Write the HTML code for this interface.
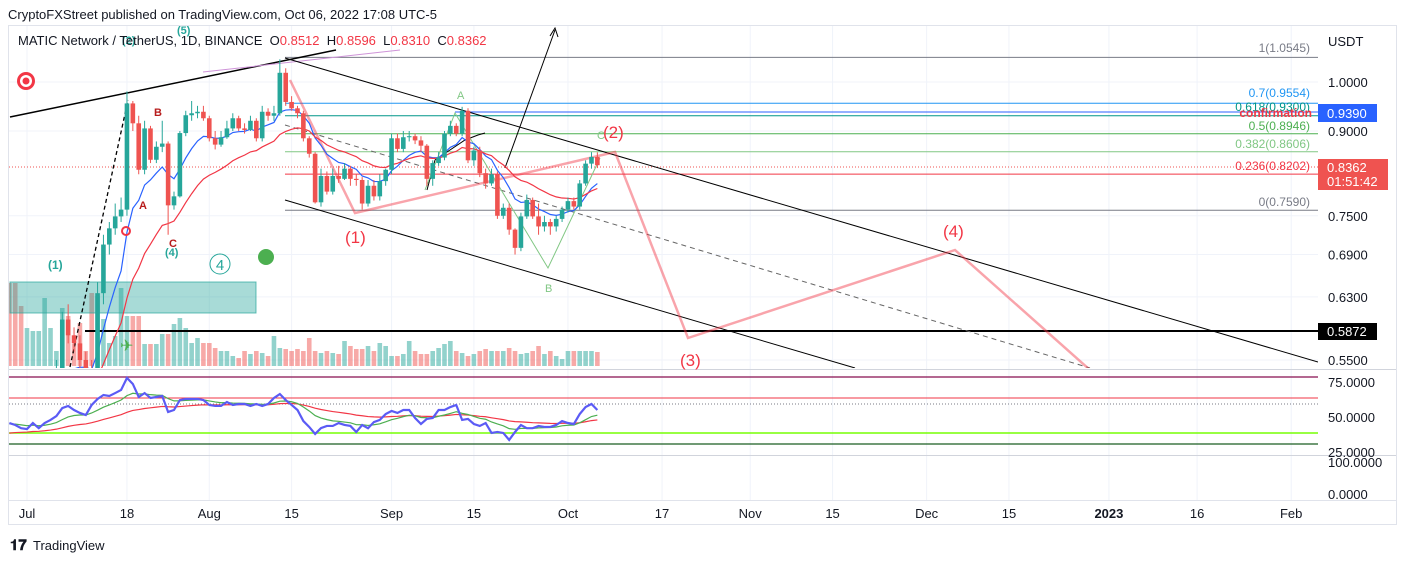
<!DOCTYPE html>
<html><head><meta charset="utf-8"><style>
html,body{margin:0;padding:0;background:#fff;}
svg{display:block;font-family:"Liberation Sans",Arial,sans-serif;}
</style></head><body>
<svg id="c" width="1407" height="561" viewBox="0 0 1407 561" xmlns="http://www.w3.org/2000/svg">
<defs><clipPath id="pc"><rect x="9" y="26" width="1309" height="342"/></clipPath>
<clipPath id="oc"><rect x="9" y="371" width="1309" height="83"/></clipPath></defs>
<text x="8" y="19" font-size="13" fill="#131722">CryptoFXStreet published on TradingView.com, Oct 06, 2022 17:08 UTC-5</text>
<rect x="8.5" y="25.5" width="1388" height="499" fill="none" stroke="#e0e3eb"/>
<g id="grid"></g>
<line x1="9" y1="369.5" x2="1396" y2="369.5" stroke="#d1d4dc"/>
<line x1="9" y1="455.5" x2="1396" y2="455.5" stroke="#d1d4dc"/>
<line x1="9" y1="500.5" x2="1396" y2="500.5" stroke="#e0e3eb"/>
<g clip-path="url(#pc)">
 <g id="vol"></g>
 <rect x="10" y="282" width="246" height="31" fill="rgba(38,166,154,0.4)" stroke="rgba(38,166,154,0.7)"/>
 <g id="fibs"></g>
 <line x1="9" y1="167" x2="1318" y2="167" stroke="#ef5350" stroke-dasharray="1,2"/>
 <line x1="85" y1="331" x2="1318" y2="331" stroke="#000" stroke-width="2"/>
 <line x1="455" y1="112" x2="1318" y2="112" stroke="#2962ff"/>
 <g id="draw">
  <line x1="10" y1="117" x2="336" y2="50" stroke="#000" stroke-width="1.5"/>
  <line x1="203" y1="72" x2="400" y2="50" stroke="#ce93d8"/>
  <line x1="285" y1="58" x2="1318" y2="362" stroke="#000"/>
  <line x1="285" y1="200" x2="855" y2="368" stroke="#000"/>
  <line x1="285" y1="125" x2="1090" y2="368" stroke="#666" stroke-dasharray="5,4"/>
  <line x1="70" y1="367" x2="128" y2="100" stroke="#000" stroke-dasharray="4,3" stroke-width="1.3"/>
  <polyline points="505,168 555,30" fill="none" stroke="#000"/>
  <polyline points="550,36 555,28 558,37" fill="none" stroke="#000"/>
  <polyline points="427,190 435,160 465,140 478,135 485,133" fill="none" stroke="#000"/>
  <polyline points="290,80 355,213 615,152 688,338 955,250 1090,370" fill="none" stroke="rgba(242,54,69,0.45)" stroke-width="2.5"/>
  <polyline points="425,190 455,113 548,268 600,158" fill="none" stroke="#81c784"/>
 </g>
 <g id="ma"></g>
 <g id="candles"></g>
</g>
<g clip-path="url(#oc)">
 <line x1="9" y1="377" x2="1318" y2="377" stroke="#880e4f" stroke-width="1.3"/>
 <line x1="9" y1="398" x2="1318" y2="398" stroke="#f23645"/>
 <line x1="9" y1="404" x2="1318" y2="404" stroke="#787b86" stroke-dasharray="1,2"/>
 <line x1="9" y1="433" x2="1318" y2="433" stroke="#76ff03" stroke-width="1.5"/>
 <line x1="9" y1="444" x2="1318" y2="444" stroke="#1b5e20" stroke-width="1.3"/>
 <g id="osc"></g>
</g>
<g font-size="14">
 <text x="48" y="269" fill="#26a69a" font-weight="bold" font-size="12">(1)</text>
 <text x="122" y="44" fill="#26a69a" font-weight="bold" font-size="11">(2)</text>
 <text x="177" y="34" fill="#26a69a" font-weight="bold" font-size="11">(5)</text>
 <text x="154" y="116" fill="#b71c1c" font-weight="bold" font-size="11">B</text>
 <text x="139" y="209" fill="#b71c1c" font-weight="bold" font-size="11">A</text>
 <text x="169" y="247" fill="#b71c1c" font-weight="bold" font-size="11">C</text>
 <text x="165" y="256" fill="#26a69a" font-weight="bold" font-size="11">(4)</text>
 <circle cx="220" cy="264" r="10" fill="none" stroke="#26a69a"/>
 <text x="220" y="270" fill="#26a69a" font-size="15" text-anchor="middle">4</text>
 <circle cx="266" cy="257" r="8" fill="#4caf50"/>
 <circle cx="26" cy="81" r="9" fill="#f23645"/>
 <circle cx="26" cy="81" r="6" fill="#fff"/><circle cx="26" cy="81" r="3.5" fill="#f23645"/>
 <circle cx="126" cy="231" r="4" fill="none" stroke="#f23645" stroke-width="2"/>
 <text x="120" y="351" fill="#4caf50" font-size="16">✈</text>
 <text x="345" y="243" fill="#f23645" font-size="17">(1)</text>
 <text x="603" y="138" fill="#f23645" font-size="17">(2)</text>
 <text x="680" y="366" fill="#f23645" font-size="17">(3)</text>
 <text x="943" y="237" fill="#f23645" font-size="17">(4)</text>
 <text x="457" y="99" fill="#81c784" font-size="11">A</text>
 <text x="545" y="292" fill="#81c784" font-size="11">B</text>
 <text x="597" y="139" fill="#81c784" font-size="11">C</text>
</g>
<g font-size="12" text-anchor="end">
 <text x="1310" y="52" fill="#787b86">1(1.0545)</text>
 <text x="1310" y="97" fill="#2196f3">0.7(0.9554)</text>
 <text x="1310" y="111" fill="#009688">0.618(0.9300)</text>
 <text x="1312" y="117" fill="#f23645" font-weight="bold">confirmation</text>
 <text x="1310" y="130" fill="#4caf50">0.5(0.8946)</text>
 <text x="1310" y="148" fill="#81c784">0.382(0.8606)</text>
 <text x="1310" y="170" fill="#f23645">0.236(0.8202)</text>
 <text x="1310" y="206" fill="#787b86">0(0.7590)</text>
</g>
<g font-size="13" fill="#131722">
 <text x="1328" y="46">USDT</text>
 <g id="ptk"></g>
 <rect x="1318" y="104" width="59" height="18" fill="#2962ff"/>
 <text x="1327" y="118" fill="#fff">0.9390</text>
 <rect x="1318" y="159" width="70" height="31" fill="#ef5350"/>
 <text x="1327" y="172" fill="#fff">0.8362</text>
 <text x="1327" y="186" fill="#fff">01:51:42</text>
 <rect x="1318" y="323" width="59" height="17" fill="#000"/>
 <text x="1327" y="336" fill="#fff">0.5872</text>
 <text x="1328" y="387">75.0000</text>
 <text x="1328" y="422">50.0000</text>
 <text x="1328" y="457">25.0000</text>
 <text x="1328" y="467">100.0000</text>
 <text x="1328" y="499">0.0000</text>
</g>
<g id="xtk" font-size="13" fill="#131722" text-anchor="middle"></g>
<g>
 <text x="10" y="550" font-size="15" font-weight="bold" fill="#131722">𝟏𝟕</text>
 <text x="33" y="550" font-size="13" fill="#131722">TradingView</text>
</g>
</svg>
<script>
const opens=[.50,.48,.47,.46,.47,.48,.49,.50,.52,.54,.60,.58,.57,.55,.54,.53,.635,.705,.73,.749,.76,.955,.915,.828,.905,.846,.870,.876,.767,.782,.896,.931,.935,.938,.925,.886,.874,.888,.905,.925,.905,.902,.920,.886,.938,.930,.935,1.020,.958,.945,.935,.886,.857,.772,.817,.790,.817,.812,.830,.812,.810,.770,.800,.782,.808,.828,.886,.866,.888,.890,.882,.872,.812,.840,.850,.895,.910,.895,.940,.845,.863,.822,.804,.820,.750,.763,.728,.700,.749,.776,.749,.733,.740,.733,.745,.760,.774,.765,.804,.839,.8512];
const closes=[.48,.47,.46,.47,.48,.49,.50,.52,.54,.60,.58,.57,.55,.54,.53,.635,.705,.73,.749,.76,.955,.915,.828,.905,.846,.870,.876,.767,.782,.896,.931,.935,.938,.925,.886,.874,.888,.905,.925,.905,.902,.920,.886,.938,.930,.935,1.020,.958,.945,.935,.886,.857,.772,.817,.790,.817,.812,.830,.812,.810,.770,.800,.782,.808,.828,.886,.866,.888,.890,.882,.872,.812,.840,.850,.895,.910,.895,.940,.845,.863,.822,.804,.820,.750,.763,.728,.700,.749,.776,.749,.733,.740,.733,.745,.760,.774,.765,.804,.839,.851,.8362];
const highs=[.51,.49,.48,.48,.49,.50,.51,.53,.55,.61,.62,.59,.58,.56,.55,.65,.72,.74,.77,.78,.98,.96,.93,.92,.91,.88,.92,.88,.79,.90,.94,.96,.95,.95,.93,.90,.90,.92,.935,.93,.915,.93,.925,.95,.945,.95,1.05,1.03,.97,.95,.94,.89,.86,.83,.825,.83,.835,.84,.835,.82,.815,.81,.81,.82,.83,.895,.895,.90,.90,.895,.89,.875,.845,.86,.90,.92,.915,.948,.945,.87,.87,.83,.83,.825,.77,.77,.73,.755,.785,.78,.77,.75,.745,.75,.765,.78,.78,.81,.845,.86,.8596];
const lows=[.47,.46,.45,.45,.46,.47,.48,.49,.51,.53,.57,.56,.54,.53,.52,.52,.62,.69,.72,.74,.75,.90,.82,.82,.84,.84,.86,.72,.76,.78,.89,.92,.925,.92,.88,.865,.87,.885,.90,.90,.895,.90,.88,.88,.92,.92,.93,.95,.94,.925,.88,.85,.77,.765,.785,.785,.805,.81,.80,.80,.76,.765,.775,.775,.80,.82,.86,.86,.88,.875,.86,.80,.80,.835,.845,.89,.89,.89,.84,.835,.815,.795,.80,.745,.745,.72,.69,.695,.745,.745,.72,.725,.72,.725,.74,.755,.76,.76,.80,.83,.8310];
const volumes=[83,83,60,38,35,35,68,38,15,58,50,22,43,15,73,70,47,23,30,78,50,50,50,22,22,22,32,32,42,48,38,23,28,23,23,18,15,15,10,8,15,12,15,13,10,30,18,17,15,17,15,28,15,13,15,13,12,25,20,17,17,20,15,23,20,10,10,12,25,15,12,12,15,18,22,25,15,13,10,12,15,17,15,15,15,18,15,12,13,15,20,12,15,10,7,15,15,15,15,15,14];
const rsi=[45.7,44.3,42,41.4,45.7,42,45.7,47.9,50.7,56.4,57.9,55,52.9,51.4,58.6,62.9,65.7,65,67.1,69.3,77.9,73.6,64.3,67.1,63.6,64.3,65,53.6,55,62.1,62.9,62.9,62.9,62.1,58.6,57.9,57.9,60.7,58.6,59.3,59.3,57.9,59.3,57.9,59.3,63.6,66.4,62.1,58.6,55,47.1,42.9,37.9,42.1,43.6,43.6,45.7,44.3,43.6,39.3,44.3,42,46.4,47.9,52.1,54.3,52.9,55,55,49.3,45,48.6,49.3,55,55,57.1,58.6,47.9,48.6,45,43.6,45.7,38.6,39.3,38.6,33.6,39.3,44.3,42,42,43.6,42.9,42.9,44.3,47.1,45.7,45,52.1,57.1,59.3,55];
const priceTicks=["1.0000","0.9000","0.7500","0.6900","0.6300","0.5500"];
const timeLabels=["Jul","18","Aug","15","Sep","15","Oct","17","Nov","15","Dec","15","2023","16","Feb"];
const timeDays=[0,17,31,45,62,76,92,108,123,137,153,167,184,199,215];
const firstDay=-3;
const NS="http://www.w3.org/2000/svg";
const xOf=d=>27+5.88*d;
const yP=p=>82-465*Math.log(p);
const yR=v=>417-(v-50)*1.4;
const yV=v=>366-v;
function mk(tag,attrs,parent){const e=document.createElementNS(NS,tag);for(const k in attrs)e.setAttribute(k,attrs[k]);parent.appendChild(e);return e;}
const grid=document.getElementById('grid');
timeDays.forEach((d,i)=>{
 const l=mk('line',{x1:xOf(d),x2:xOf(d),y1:26,y2:500,stroke:'#f0f3fa'},grid);
 
 
 const t=mk('text',{x:xOf(d),y:518},document.getElementById('xtk'));
 t.textContent=timeLabels[i];
 if(timeLabels[i]==='2023')t.setAttribute('font-weight','bold');
 
 
});
priceTicks.forEach(s=>{
 const y=yP(parseFloat(s));
 const l=mk('line',{x1:9,x2:1318,y1:y,y2:y,stroke:'#f0f3fa'},grid);
 
 
 const t=mk('text',{x:1328,y:y+5},document.getElementById('ptk'));
 t.textContent=s;
 
 
});
const fibs=[[1.0545,'#787b86'],[0.9554,'#2196f3'],[0.93,'#009688'],[0.8946,'#4caf50'],[0.8606,'#81c784'],[0.8202,'#f23645'],[0.759,'#787b86']];
fibs.forEach(f=>{const y=yP(f[0]);const l=mk('line',{x1:285,x2:1318,y1:y,y2:y,stroke:f[1]},document.getElementById('fibs'));
 
 });
const vg=document.getElementById('vol');
volumes.forEach((v,i)=>{const d=firstDay+i;const up=closes[i]>=opens[i];
 const r=mk('rect',{x:xOf(d)-2.3,y:yV(v),width:4.6,height:366-yV(v),fill:up?'rgba(38,166,154,0.5)':'rgba(239,83,80,0.5)'},vg);
 
 });
const cg=document.getElementById('candles');
closes.forEach((c,i)=>{const d=firstDay+i,o=opens[i],up=c>=o,col=up?'#26a69a':'#ef5350',x=xOf(d);
 const w=mk('line',{x1:x,x2:x,y1:yP(highs[i]),y2:yP(lows[i]),stroke:col},cg);
 
 
 const t=Math.min(yP(o),yP(c)),h=Math.max(1,Math.abs(yP(o)-yP(c)));
 const b=mk('rect',{x:x-2.3,y:t,width:4.6,height:h,fill:col},cg);
 
 });
function ema(arr,n,seed){const a=2/(n+1);let e=seed;return arr.map(v=>(e=e+a*(v-e)));}
function line(vals,fx,fy,col,w,g,name,start){let pts=vals.map((v,i)=>fx(i)+','+fy(v)).slice(start||0).join(' ');
 const p=mk('polyline',{points:pts,fill:'none',stroke:col,'stroke-width':w},g);
 
 }
const mg=document.getElementById('ma');
line(ema(closes,9,closes[0]),i=>xOf(firstDay+i),yP,'#2962ff',1.2,mg,'ema-fast',0);
line(ema(closes,21,closes[0]),i=>xOf(firstDay+i),yP,'#f23645',1.2,mg,'ema-slow',0);
const og=document.getElementById('osc');
line(ema(rsi,30,38),i=>xOf(firstDay+i),yR,'#f23645',1.2,og,'rsi-slow-ma',0);
line(ema(rsi,9,45),i=>xOf(firstDay+i),yR,'#4caf50',1.2,og,'rsi-signal',0);
line(rsi,i=>xOf(firstDay+i),yR,'#5b5bf5',2.2,og,'rsi-line',0);
</script>
<div style="position:absolute;left:18px;top:33px;font:13px 'Liberation Sans',sans-serif;color:#131722;white-space:pre">MATIC Network / TetherUS, 1D, BINANCE  O<span style="color:#f23645">0.8512</span>  H<span style="color:#f23645">0.8596</span>  L<span style="color:#f23645">0.8310</span>  C<span style="color:#f23645">0.8362</span></div>
</body></html>
